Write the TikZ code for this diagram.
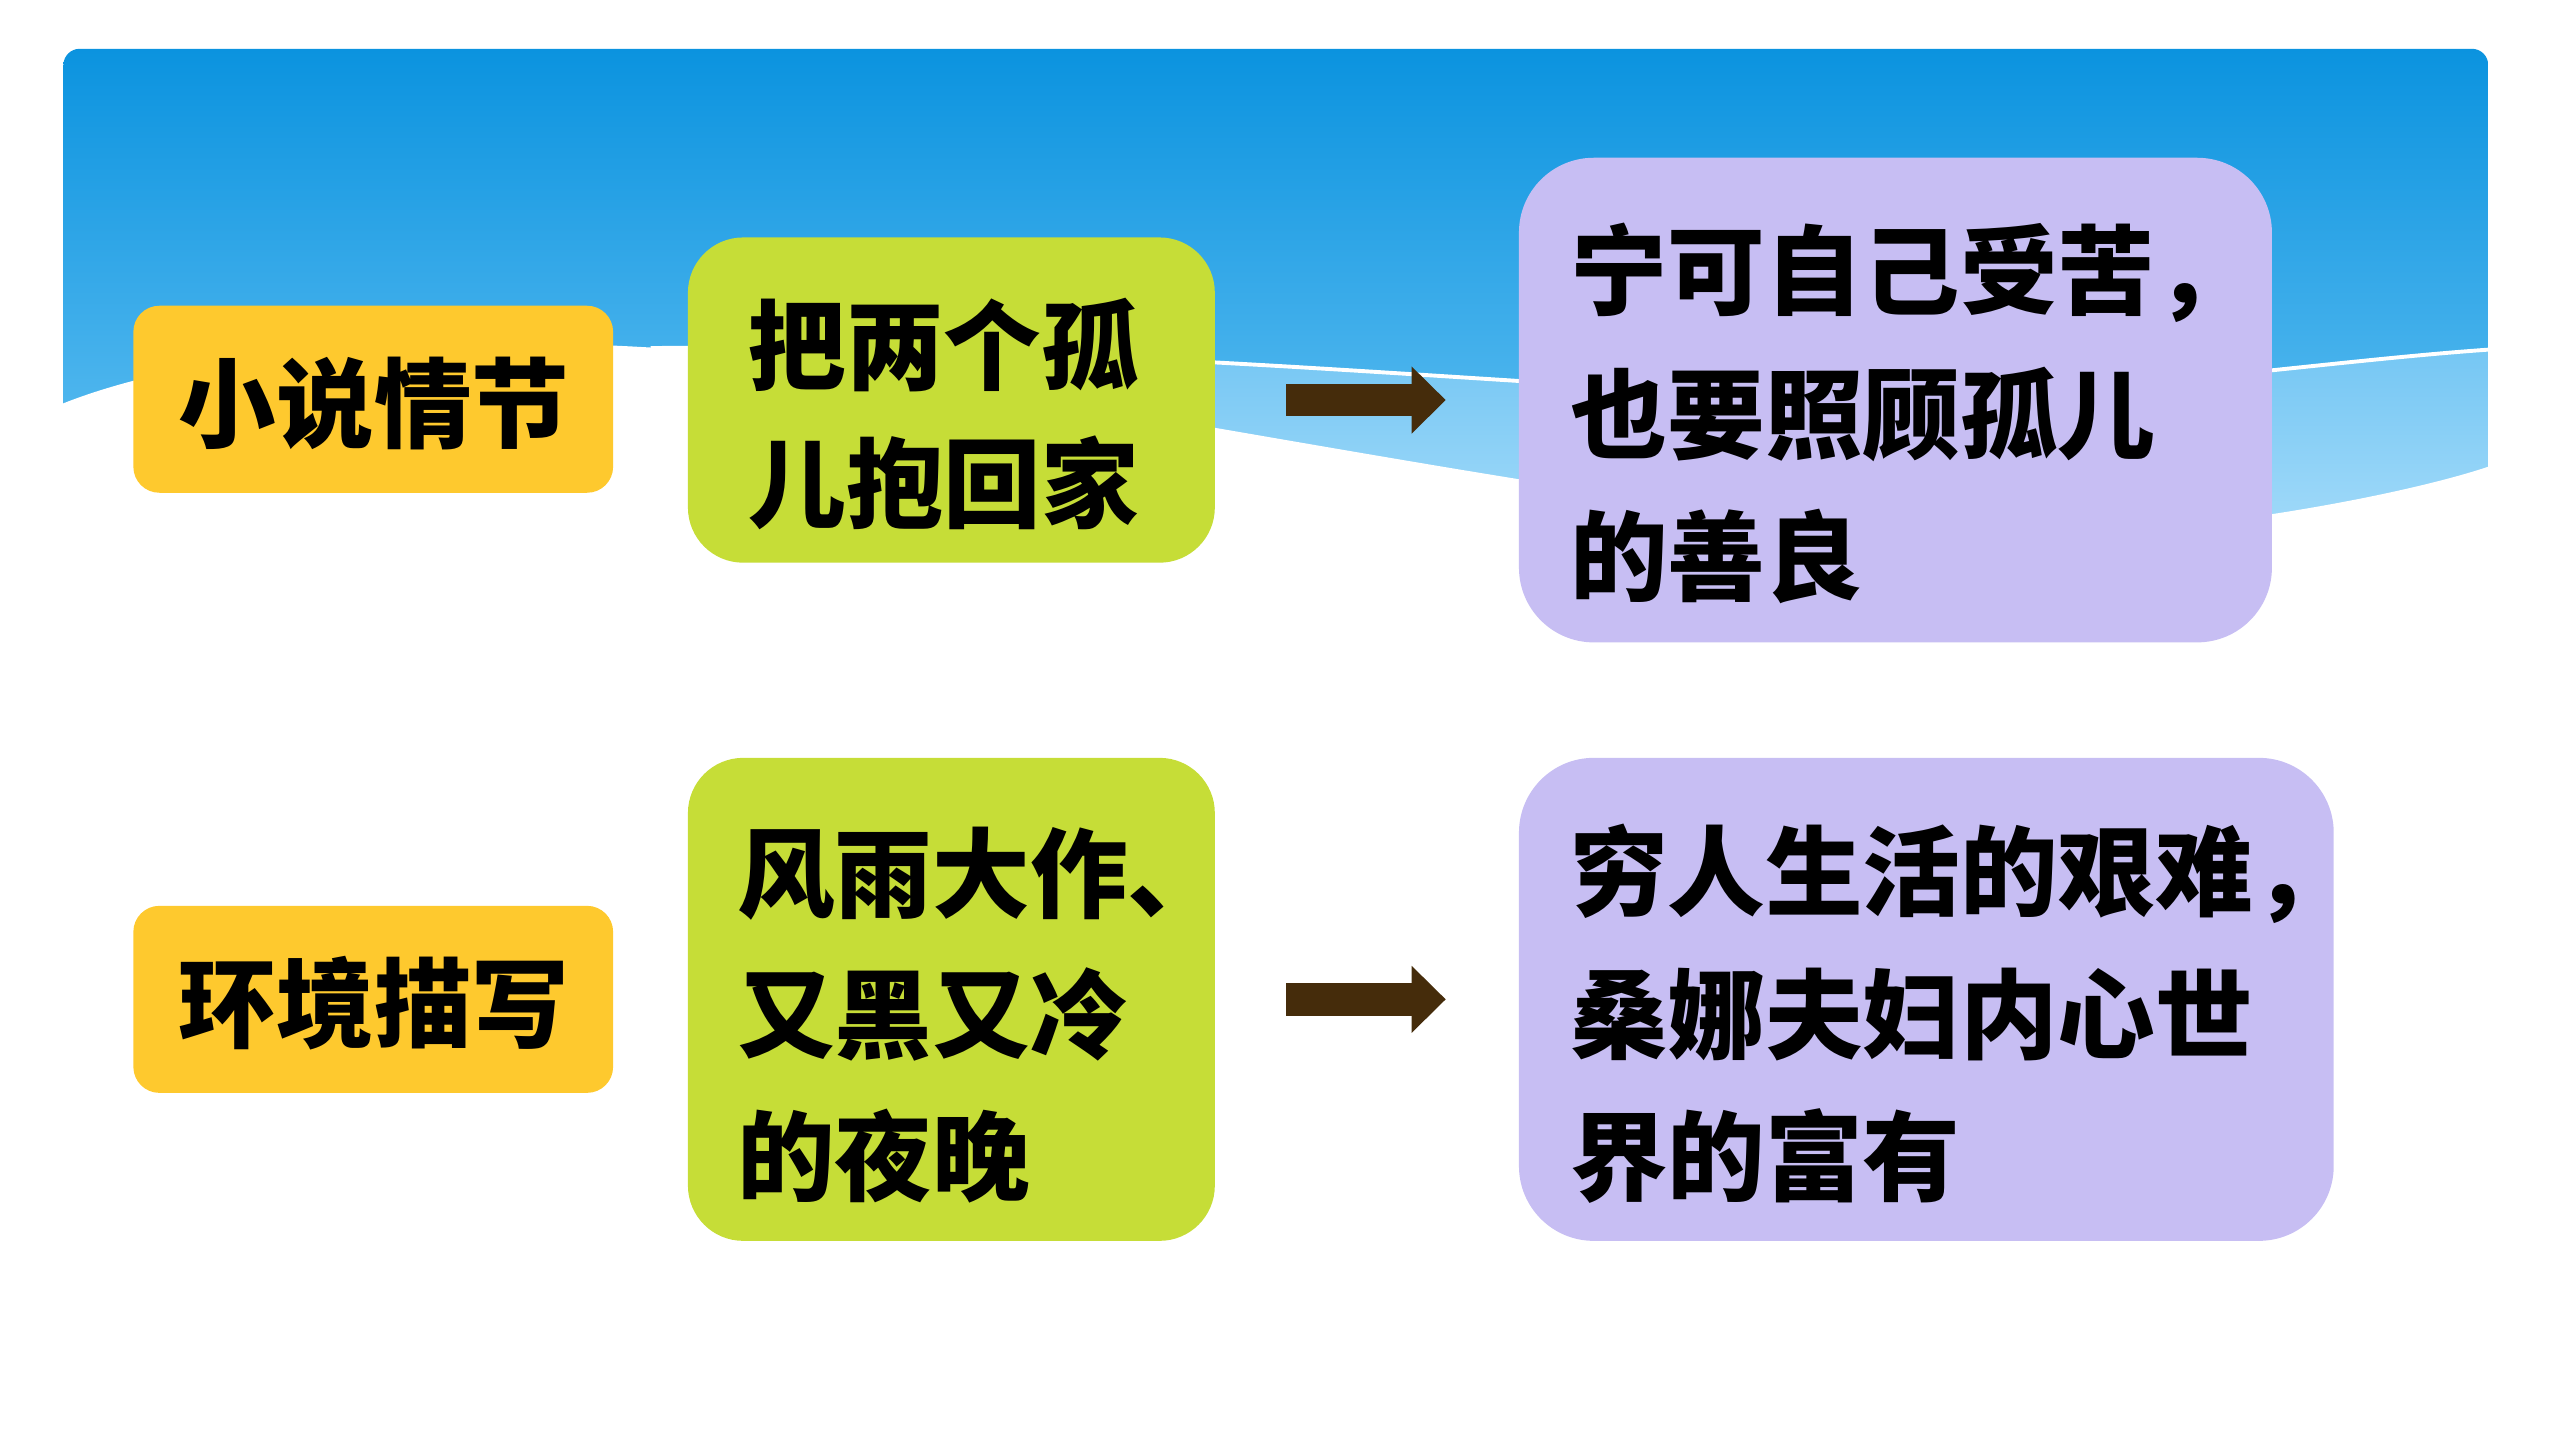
\documentclass[tikz,border=0pt]{standalone}
\usepackage{fontspec}
\newfontfamily\cjk{Noto Sans CJK SC}
\usetikzlibrary{arrows.meta}
\definecolor{bannerTop}{HTML}{0B93DF}
\definecolor{bannerBot}{HTML}{66C2F3}
\definecolor{bandTop}{HTML}{74C6F3}
\definecolor{bandBot}{HTML}{A6DCFA}
\definecolor{boxYellow}{HTML}{FEC92E}
\definecolor{boxGreen}{HTML}{C6DD37}
\definecolor{boxPurple}{HTML}{C7BEF3}
\definecolor{arrowBrown}{HTML}{452C0B}
\tikzset{
  box/.style={draw=none, inner sep=0pt, outer sep=0pt},
  ybox/.style={box, fill=boxYellow, rounded corners=8pt, minimum width=147.5pt, minimum height=57.5pt},
  gbox/.style={box, fill=boxGreen, rounded corners=17pt, minimum width=162pt},
  pbox/.style={box, fill=boxPurple, rounded corners=23pt},
  txt/.style={anchor=west, inner sep=0pt, font=\cjk\bfseries\fontsize{30pt}{30pt}\selectfont},
  ytxt/.style={inner sep=0pt, font=\cjk\bfseries\fontsize{30pt}{30pt}\selectfont},
  fatarrow/.style={draw=arrowBrown, line width=10pt, -{Triangle[length=10.5pt,width=20pt]}, shorten <=22pt, shorten >=22.5pt}
}
\begin{document}
\begin{tikzpicture}[x=0.5pt,y=-0.5pt]
\useasboundingbox (0,0) rectangle (1568,882);
% banner
\begin{scope}
\clip[rounded corners=5pt] (39,420) -- (39,30) -- (1530,30) -- (1530,420) -- cycle;
\shade[top color=bannerTop, bottom color=bannerBot] (39,30) rectangle (1530,330);
\shade[top color=bandTop, bottom color=bandBot] (400,214) .. controls (700,212) and (900,236) .. (1150,246) .. controls (1300,242) and (1430,222) .. (1530,215) -- (1530,340) -- (400,340) -- cycle;
\draw[white, line width=1.2pt] (400,214) .. controls (700,212) and (900,236) .. (1150,246) .. controls (1300,242) and (1430,222) .. (1530,215);
\end{scope}
\fill[white] (20,256) -- (39,248) .. controls (130,212) and (280,205) .. (420,215) .. controls (560,226) and (800,275) .. (1000,305) .. controls (1150,325) and (1300,325) .. (1398,316) .. controls (1450,308) and (1500,297) .. (1530,287) -- (1548,280) -- (1548,430) -- (20,430) -- cycle;
% row 1
\node[ybox] (y1) at (229.5,245.5) {};
\node[ytxt] (y1t) at (230,248) {小说情节};
\node[gbox, minimum height=100pt] (g1) at (585,246) {};
\node[txt] (g1a) at (460,212) {把两个孤};
\node[txt] (g1b) at (460,297) {儿抱回家};
\node[pbox, minimum width=231.5pt, minimum height=149pt] (p1) at (1165.5,246) {};
\node[txt] (p1a) at (965,168) {宁可自己受苦，};
\node[txt] (p1b) at (965,255) {也要照顾孤儿};
\node[txt] (p1c) at (965,342) {的善良};
\draw[fatarrow] (g1) -- (p1);
% row 2
\node[ybox] (y2) at (229.5,614.5) {};
\node[ytxt] (y2t) at (230,617) {环境描写};
\node[gbox, minimum height=148.5pt] (g2) at (585,614.5) {};
\node[txt] (g2a) at (453,537) {风雨大作、};
\node[txt] (g2b) at (453,624) {又黑又冷};
\node[txt] (g2c) at (453,711) {的夜晚};
\node[pbox, minimum width=250.5pt, minimum height=148.5pt] (p2) at (1184.5,614.5) {};
\node[txt] (p2a) at (965,537) {穷人生活的艰难，};
\node[txt] (p2b) at (965,624) {桑娜夫妇内心世};
\node[txt] (p2c) at (965,711) {界的富有};
\draw[fatarrow] (g2) -- (p2);
\end{tikzpicture}
\end{document}
